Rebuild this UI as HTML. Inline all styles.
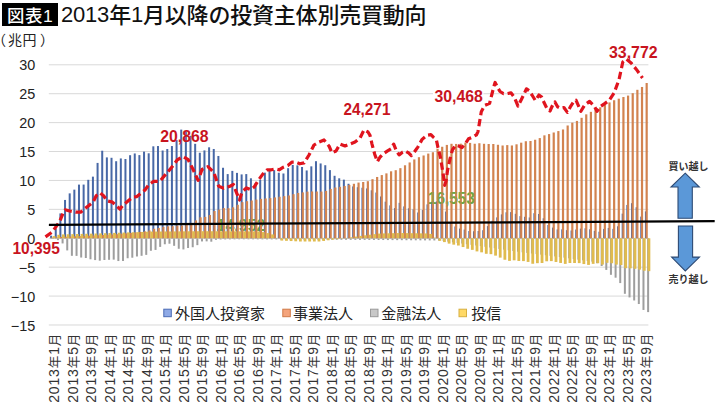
<!DOCTYPE html>
<html><head><meta charset="utf-8"><style>
html,body{margin:0;padding:0;background:#fff;}
body{width:720px;height:406px;position:relative;overflow:hidden;}
.tbox{position:absolute;left:2px;top:3px;width:56px;height:23px;background:#000;}
.t1{position:absolute;left:7px;top:3px;font:500 17.4px/26px "Liberation Sans","Noto Sans CJK JP",sans-serif;color:#fff;white-space:nowrap;letter-spacing:0.6px;}
.dg{position:relative;top:-1.5px;}
.t2{position:absolute;left:61px;top:2px;font:500 22px/28px "Liberation Sans","Noto Sans CJK JP",sans-serif;color:#111;white-space:nowrap;letter-spacing:-0.2px;}
.unit{position:absolute;left:0px;top:31.3px;font:14px/18px "Liberation Sans","Noto Sans CJK JP",sans-serif;color:#222;white-space:nowrap;}
svg{position:absolute;left:0;top:0;}
.yl{font:14.4px "Liberation Sans","Noto Sans CJK JP",sans-serif;fill:#222;}
.xl{font:14px "Liberation Sans","Noto Sans CJK JP",sans-serif;fill:#333;letter-spacing:0.85px;}
.xc{font-size:12.6px;}
.rl{font:bold 16px "Liberation Sans",sans-serif;fill:#c8141e;}
.gl{font:bold 16px "Liberation Sans",sans-serif;fill:#68a844;}
.lg{font:15px "Liberation Sans","Noto Sans CJK JP",sans-serif;fill:#222;}
.ar{font:bold 10px "Liberation Sans","Noto Sans CJK JP",sans-serif;fill:#333;}
</style></head><body>
<div class="tbox"></div>
<div class="t1">図表1</div>
<div class="t2"><span class="dg">2013</span>年<span class="dg">1</span>月以降の投資主体別売買動向</div>
<div class="unit"><span style="position:absolute;left:-8px">（</span><span style="position:absolute;left:8px">兆</span><span style="position:absolute;left:22.6px">円</span><span style="position:absolute;left:40px">）</span></div>
<svg width="720" height="406" viewBox="0 0 720 406">
<line x1="48.8" y1="64.80" x2="648.4" y2="64.80" stroke="#d9d9d9" stroke-width="1"/>
<line x1="48.8" y1="93.71" x2="648.4" y2="93.71" stroke="#d9d9d9" stroke-width="1"/>
<line x1="48.8" y1="122.62" x2="648.4" y2="122.62" stroke="#d9d9d9" stroke-width="1"/>
<line x1="48.8" y1="151.53" x2="648.4" y2="151.53" stroke="#d9d9d9" stroke-width="1"/>
<line x1="48.8" y1="180.44" x2="648.4" y2="180.44" stroke="#d9d9d9" stroke-width="1"/>
<line x1="48.8" y1="209.35" x2="648.4" y2="209.35" stroke="#d9d9d9" stroke-width="1"/>
<line x1="48.8" y1="238.26" x2="648.4" y2="238.26" stroke="#d9d9d9" stroke-width="1"/>
<line x1="48.8" y1="267.17" x2="648.4" y2="267.17" stroke="#d9d9d9" stroke-width="1"/>
<line x1="48.8" y1="296.08" x2="648.4" y2="296.08" stroke="#d9d9d9" stroke-width="1"/>
<line x1="48.8" y1="324.99" x2="648.4" y2="324.99" stroke="#d9d9d9" stroke-width="1"/>
<text x="216.5" y="231" class="gl" style="font-size:16px">14,952</text>
<text x="428.1" y="203.8" class="gl" textLength="46.8" lengthAdjust="spacingAndGlyphs">16,553</text>
<g fill="#4868a6"><rect x="50.10" y="235.70" width="2.0" height="2.60"/><rect x="54.75" y="228.45" width="2.0" height="9.85"/><rect x="59.39" y="213.42" width="2.0" height="24.88"/><rect x="64.04" y="199.94" width="2.0" height="38.36"/><rect x="68.69" y="193.37" width="2.0" height="44.93"/><rect x="73.34" y="189.65" width="2.0" height="48.65"/><rect x="77.98" y="184.60" width="2.0" height="53.70"/><rect x="82.63" y="184.57" width="2.0" height="53.73"/><rect x="87.28" y="179.81" width="2.0" height="58.49"/><rect x="91.92" y="176.65" width="2.0" height="61.65"/><rect x="96.57" y="162.92" width="2.0" height="75.38"/><rect x="101.22" y="150.73" width="2.0" height="87.57"/><rect x="105.86" y="157.40" width="2.0" height="80.90"/><rect x="110.51" y="157.78" width="2.0" height="80.52"/><rect x="115.16" y="161.22" width="2.0" height="77.08"/><rect x="119.81" y="158.45" width="2.0" height="79.85"/><rect x="124.45" y="159.01" width="2.0" height="79.29"/><rect x="129.10" y="155.20" width="2.0" height="83.10"/><rect x="133.75" y="153.47" width="2.0" height="84.83"/><rect x="138.39" y="155.10" width="2.0" height="83.20"/><rect x="143.04" y="151.63" width="2.0" height="86.67"/><rect x="147.69" y="153.30" width="2.0" height="85.00"/><rect x="152.33" y="146.32" width="2.0" height="91.98"/><rect x="156.98" y="146.03" width="2.0" height="92.27"/><rect x="161.63" y="150.50" width="2.0" height="87.80"/><rect x="166.28" y="149.04" width="2.0" height="89.26"/><rect x="170.92" y="146.05" width="2.0" height="92.25"/><rect x="175.57" y="139.96" width="2.0" height="98.34"/><rect x="180.22" y="129.61" width="2.0" height="108.69"/><rect x="184.86" y="131.39" width="2.0" height="106.91"/><rect x="189.51" y="135.77" width="2.0" height="102.53"/><rect x="194.16" y="143.82" width="2.0" height="94.48"/><rect x="198.80" y="152.75" width="2.0" height="85.55"/><rect x="203.45" y="150.41" width="2.0" height="87.89"/><rect x="208.10" y="147.30" width="2.0" height="91.00"/><rect x="212.75" y="148.98" width="2.0" height="89.32"/><rect x="217.39" y="155.97" width="2.0" height="82.33"/><rect x="222.04" y="167.76" width="2.0" height="70.54"/><rect x="226.69" y="174.09" width="2.0" height="64.21"/><rect x="231.33" y="170.89" width="2.0" height="67.41"/><rect x="235.98" y="172.88" width="2.0" height="65.42"/><rect x="240.63" y="174.41" width="2.0" height="63.89"/><rect x="245.27" y="174.09" width="2.0" height="64.21"/><rect x="249.92" y="178.29" width="2.0" height="60.01"/><rect x="254.57" y="183.07" width="2.0" height="55.23"/><rect x="259.22" y="179.68" width="2.0" height="58.62"/><rect x="263.86" y="172.64" width="2.0" height="65.66"/><rect x="268.51" y="170.33" width="2.0" height="67.97"/><rect x="273.16" y="170.17" width="2.0" height="68.13"/><rect x="277.80" y="172.73" width="2.0" height="65.57"/><rect x="282.45" y="173.49" width="2.0" height="64.81"/><rect x="287.10" y="168.19" width="2.0" height="70.11"/><rect x="291.74" y="164.93" width="2.0" height="73.37"/><rect x="296.39" y="165.34" width="2.0" height="72.96"/><rect x="301.04" y="166.98" width="2.0" height="71.32"/><rect x="305.69" y="170.45" width="2.0" height="67.85"/><rect x="310.33" y="166.34" width="2.0" height="71.96"/><rect x="314.98" y="161.20" width="2.0" height="77.10"/><rect x="319.63" y="163.45" width="2.0" height="74.85"/><rect x="324.27" y="165.22" width="2.0" height="73.08"/><rect x="328.92" y="170.11" width="2.0" height="68.19"/><rect x="333.57" y="175.79" width="2.0" height="62.51"/><rect x="338.21" y="178.30" width="2.0" height="60.00"/><rect x="342.86" y="179.67" width="2.0" height="58.63"/><rect x="347.51" y="183.77" width="2.0" height="54.53"/><rect x="352.16" y="186.43" width="2.0" height="51.87"/><rect x="356.80" y="187.22" width="2.0" height="51.08"/><rect x="361.45" y="187.72" width="2.0" height="50.58"/><rect x="366.10" y="188.44" width="2.0" height="49.86"/><rect x="370.74" y="190.30" width="2.0" height="48.00"/><rect x="375.39" y="192.55" width="2.0" height="45.75"/><rect x="380.04" y="196.47" width="2.0" height="41.83"/><rect x="384.68" y="201.66" width="2.0" height="36.64"/><rect x="389.33" y="205.39" width="2.0" height="32.91"/><rect x="393.98" y="208.10" width="2.0" height="30.20"/><rect x="398.63" y="202.82" width="2.0" height="35.48"/><rect x="403.27" y="206.41" width="2.0" height="31.89"/><rect x="407.92" y="208.30" width="2.0" height="30.00"/><rect x="412.57" y="209.35" width="2.0" height="28.95"/><rect x="417.21" y="212.48" width="2.0" height="25.82"/><rect x="421.86" y="210.03" width="2.0" height="28.27"/><rect x="426.51" y="204.39" width="2.0" height="33.91"/><rect x="431.15" y="201.81" width="2.0" height="36.49"/><rect x="435.80" y="201.40" width="2.0" height="36.90"/><rect x="440.45" y="203.17" width="2.0" height="35.13"/><rect x="445.10" y="211.57" width="2.0" height="26.73"/><rect x="449.74" y="222.02" width="2.0" height="16.28"/><rect x="454.39" y="226.48" width="2.0" height="11.82"/><rect x="459.04" y="228.57" width="2.0" height="9.73"/><rect x="463.68" y="229.56" width="2.0" height="8.74"/><rect x="468.33" y="231.06" width="2.0" height="7.24"/><rect x="472.98" y="231.27" width="2.0" height="7.03"/><rect x="477.62" y="231.00" width="2.0" height="7.30"/><rect x="482.27" y="230.21" width="2.0" height="8.09"/><rect x="486.92" y="226.12" width="2.0" height="12.18"/><rect x="491.57" y="220.67" width="2.0" height="17.63"/><rect x="496.21" y="217.39" width="2.0" height="20.91"/><rect x="500.86" y="214.39" width="2.0" height="23.91"/><rect x="505.51" y="212.31" width="2.0" height="25.99"/><rect x="510.15" y="212.10" width="2.0" height="26.20"/><rect x="514.80" y="213.81" width="2.0" height="24.49"/><rect x="519.45" y="216.12" width="2.0" height="22.18"/><rect x="524.09" y="216.77" width="2.0" height="21.53"/><rect x="528.74" y="217.46" width="2.0" height="20.84"/><rect x="533.39" y="213.20" width="2.0" height="25.10"/><rect x="538.03" y="213.97" width="2.0" height="24.33"/><rect x="542.68" y="218.28" width="2.0" height="20.02"/><rect x="547.33" y="224.99" width="2.0" height="13.31"/><rect x="551.98" y="227.59" width="2.0" height="10.71"/><rect x="556.62" y="229.45" width="2.0" height="8.85"/><rect x="561.27" y="229.35" width="2.0" height="8.95"/><rect x="565.92" y="230.17" width="2.0" height="8.13"/><rect x="570.56" y="230.49" width="2.0" height="7.81"/><rect x="575.21" y="229.56" width="2.0" height="8.74"/><rect x="579.86" y="228.63" width="2.0" height="9.67"/><rect x="584.50" y="228.30" width="2.0" height="10.00"/><rect x="589.15" y="229.29" width="2.0" height="9.01"/><rect x="593.80" y="230.90" width="2.0" height="7.40"/><rect x="598.45" y="231.70" width="2.0" height="6.60"/><rect x="603.09" y="228.91" width="2.0" height="9.39"/><rect x="607.74" y="227.93" width="2.0" height="10.37"/><rect x="612.39" y="228.85" width="2.0" height="9.45"/><rect x="617.03" y="226.31" width="2.0" height="11.99"/><rect x="621.68" y="213.63" width="2.0" height="24.67"/><rect x="626.33" y="204.95" width="2.0" height="33.35"/><rect x="630.98" y="203.20" width="2.0" height="35.10"/><rect x="635.62" y="207.26" width="2.0" height="31.04"/><rect x="640.27" y="216.59" width="2.0" height="21.71"/><rect x="644.92" y="211.40" width="2.0" height="26.90"/></g>
<g fill="#d2834f"><rect x="50.75" y="237.54" width="2.2" height="0.76"/><rect x="55.40" y="237.23" width="2.2" height="1.07"/><rect x="60.04" y="236.94" width="2.2" height="1.36"/><rect x="64.69" y="236.71" width="2.2" height="1.59"/><rect x="69.34" y="236.48" width="2.2" height="1.82"/><rect x="73.99" y="236.25" width="2.2" height="2.05"/><rect x="78.63" y="236.01" width="2.2" height="2.29"/><rect x="83.28" y="235.82" width="2.2" height="2.48"/><rect x="87.93" y="235.64" width="2.2" height="2.66"/><rect x="92.57" y="235.45" width="2.2" height="2.85"/><rect x="97.22" y="235.27" width="2.2" height="3.03"/><rect x="101.87" y="235.02" width="2.2" height="3.28"/><rect x="106.51" y="234.74" width="2.2" height="3.56"/><rect x="111.16" y="234.46" width="2.2" height="3.84"/><rect x="115.81" y="234.19" width="2.2" height="4.11"/><rect x="120.46" y="233.84" width="2.2" height="4.46"/><rect x="125.10" y="233.38" width="2.2" height="4.92"/><rect x="129.75" y="232.92" width="2.2" height="5.38"/><rect x="134.40" y="232.44" width="2.2" height="5.86"/><rect x="139.04" y="231.88" width="2.2" height="6.42"/><rect x="143.69" y="231.33" width="2.2" height="6.97"/><rect x="148.34" y="230.44" width="2.2" height="7.86"/><rect x="152.98" y="228.75" width="2.2" height="9.55"/><rect x="157.63" y="227.93" width="2.2" height="10.37"/><rect x="162.28" y="226.79" width="2.2" height="11.51"/><rect x="166.93" y="226.30" width="2.2" height="12.00"/><rect x="171.57" y="226.18" width="2.2" height="12.12"/><rect x="176.22" y="225.60" width="2.2" height="12.70"/><rect x="180.87" y="225.51" width="2.2" height="12.79"/><rect x="185.51" y="224.86" width="2.2" height="13.44"/><rect x="190.16" y="223.59" width="2.2" height="14.71"/><rect x="194.81" y="220.39" width="2.2" height="17.91"/><rect x="199.45" y="217.34" width="2.2" height="20.96"/><rect x="204.10" y="216.90" width="2.2" height="21.40"/><rect x="208.75" y="215.01" width="2.2" height="23.29"/><rect x="213.40" y="211.02" width="2.2" height="27.28"/><rect x="218.04" y="209.67" width="2.2" height="28.63"/><rect x="222.69" y="208.10" width="2.2" height="30.20"/><rect x="227.34" y="208.18" width="2.2" height="30.12"/><rect x="231.98" y="207.32" width="2.2" height="30.98"/><rect x="236.63" y="204.75" width="2.2" height="33.55"/><rect x="241.28" y="202.18" width="2.2" height="36.12"/><rect x="245.92" y="201.22" width="2.2" height="37.08"/><rect x="250.57" y="200.51" width="2.2" height="37.79"/><rect x="255.22" y="199.59" width="2.2" height="38.71"/><rect x="259.87" y="198.89" width="2.2" height="39.41"/><rect x="264.51" y="198.47" width="2.2" height="39.83"/><rect x="269.16" y="198.13" width="2.2" height="40.17"/><rect x="273.81" y="197.44" width="2.2" height="40.86"/><rect x="278.45" y="196.75" width="2.2" height="41.55"/><rect x="283.10" y="196.14" width="2.2" height="42.16"/><rect x="287.75" y="195.46" width="2.2" height="42.84"/><rect x="292.39" y="194.18" width="2.2" height="44.12"/><rect x="297.04" y="192.96" width="2.2" height="45.34"/><rect x="301.69" y="192.39" width="2.2" height="45.91"/><rect x="306.33" y="191.63" width="2.2" height="46.67"/><rect x="310.98" y="191.44" width="2.2" height="46.86"/><rect x="315.63" y="191.51" width="2.2" height="46.79"/><rect x="320.28" y="191.58" width="2.2" height="46.72"/><rect x="324.92" y="190.93" width="2.2" height="47.37"/><rect x="329.57" y="188.92" width="2.2" height="49.38"/><rect x="334.22" y="187.51" width="2.2" height="50.79"/><rect x="338.86" y="186.83" width="2.2" height="51.47"/><rect x="343.51" y="185.95" width="2.2" height="52.35"/><rect x="348.16" y="184.93" width="2.2" height="53.37"/><rect x="352.81" y="183.78" width="2.2" height="54.52"/><rect x="357.45" y="182.57" width="2.2" height="55.73"/><rect x="362.10" y="182.00" width="2.2" height="56.30"/><rect x="366.75" y="181.18" width="2.2" height="57.12"/><rect x="371.39" y="179.17" width="2.2" height="59.13"/><rect x="376.04" y="176.97" width="2.2" height="61.33"/><rect x="380.69" y="175.07" width="2.2" height="63.23"/><rect x="385.33" y="173.38" width="2.2" height="64.92"/><rect x="389.98" y="171.31" width="2.2" height="66.99"/><rect x="394.63" y="170.20" width="2.2" height="68.10"/><rect x="399.28" y="168.16" width="2.2" height="70.14"/><rect x="403.92" y="165.29" width="2.2" height="73.01"/><rect x="408.57" y="162.45" width="2.2" height="75.85"/><rect x="413.22" y="159.44" width="2.2" height="78.86"/><rect x="417.86" y="157.20" width="2.2" height="81.10"/><rect x="422.51" y="155.48" width="2.2" height="82.82"/><rect x="427.16" y="153.58" width="2.2" height="84.72"/><rect x="431.80" y="152.25" width="2.2" height="86.05"/><rect x="436.45" y="148.77" width="2.2" height="89.53"/><rect x="441.10" y="146.76" width="2.2" height="91.54"/><rect x="445.75" y="144.91" width="2.2" height="93.39"/><rect x="450.39" y="143.79" width="2.2" height="94.51"/><rect x="455.04" y="143.93" width="2.2" height="94.37"/><rect x="459.69" y="143.67" width="2.2" height="94.63"/><rect x="464.33" y="142.55" width="2.2" height="95.75"/><rect x="468.98" y="142.89" width="2.2" height="95.41"/><rect x="473.63" y="143.75" width="2.2" height="94.55"/><rect x="478.27" y="143.23" width="2.2" height="95.07"/><rect x="482.92" y="143.79" width="2.2" height="94.51"/><rect x="487.57" y="144.00" width="2.2" height="94.30"/><rect x="492.22" y="144.00" width="2.2" height="94.30"/><rect x="496.86" y="144.79" width="2.2" height="93.51"/><rect x="501.51" y="145.49" width="2.2" height="92.81"/><rect x="506.16" y="145.10" width="2.2" height="93.20"/><rect x="510.80" y="145.47" width="2.2" height="92.83"/><rect x="515.45" y="144.31" width="2.2" height="93.99"/><rect x="520.10" y="142.68" width="2.2" height="95.62"/><rect x="524.74" y="141.23" width="2.2" height="97.07"/><rect x="529.39" y="141.00" width="2.2" height="97.30"/><rect x="534.04" y="139.74" width="2.2" height="98.56"/><rect x="538.68" y="138.08" width="2.2" height="100.22"/><rect x="543.33" y="135.34" width="2.2" height="102.96"/><rect x="547.98" y="134.07" width="2.2" height="104.23"/><rect x="552.63" y="132.50" width="2.2" height="105.80"/><rect x="557.27" y="131.07" width="2.2" height="107.23"/><rect x="561.92" y="129.48" width="2.2" height="108.82"/><rect x="566.57" y="125.48" width="2.2" height="112.82"/><rect x="571.21" y="122.67" width="2.2" height="115.63"/><rect x="575.86" y="120.92" width="2.2" height="117.38"/><rect x="580.51" y="117.80" width="2.2" height="120.50"/><rect x="585.15" y="114.34" width="2.2" height="123.96"/><rect x="589.80" y="111.84" width="2.2" height="126.46"/><rect x="594.45" y="109.17" width="2.2" height="129.13"/><rect x="599.10" y="107.32" width="2.2" height="130.98"/><rect x="603.74" y="105.06" width="2.2" height="133.24"/><rect x="608.39" y="102.41" width="2.2" height="135.89"/><rect x="613.04" y="100.25" width="2.2" height="138.05"/><rect x="617.68" y="98.68" width="2.2" height="139.62"/><rect x="622.33" y="97.02" width="2.2" height="141.28"/><rect x="626.98" y="95.58" width="2.2" height="142.72"/><rect x="631.62" y="93.18" width="2.2" height="145.12"/><rect x="636.27" y="89.80" width="2.2" height="148.50"/><rect x="640.92" y="86.97" width="2.2" height="151.33"/><rect x="645.57" y="83.00" width="2.2" height="155.30"/></g>
<g fill="#9e9e9e"><rect x="52.30" y="238.30" width="2.0" height="0.53"/><rect x="56.95" y="238.30" width="2.0" height="1.85"/><rect x="61.59" y="238.30" width="2.0" height="5.14"/><rect x="66.24" y="238.30" width="2.0" height="12.11"/><rect x="70.89" y="238.30" width="2.0" height="17.50"/><rect x="75.54" y="238.30" width="2.0" height="17.59"/><rect x="80.18" y="238.30" width="2.0" height="19.24"/><rect x="84.83" y="238.30" width="2.0" height="19.71"/><rect x="89.48" y="238.30" width="2.0" height="20.98"/><rect x="94.12" y="238.30" width="2.0" height="21.78"/><rect x="98.77" y="238.30" width="2.0" height="22.40"/><rect x="103.42" y="238.30" width="2.0" height="21.70"/><rect x="108.06" y="238.30" width="2.0" height="21.51"/><rect x="112.71" y="238.30" width="2.0" height="21.33"/><rect x="117.36" y="238.30" width="2.0" height="22.74"/><rect x="122.01" y="238.30" width="2.0" height="22.67"/><rect x="126.65" y="238.30" width="2.0" height="19.94"/><rect x="131.30" y="238.30" width="2.0" height="19.41"/><rect x="135.95" y="238.30" width="2.0" height="18.19"/><rect x="140.59" y="238.30" width="2.0" height="17.50"/><rect x="145.24" y="238.30" width="2.0" height="16.58"/><rect x="149.89" y="238.30" width="2.0" height="12.46"/><rect x="154.53" y="238.30" width="2.0" height="11.62"/><rect x="159.18" y="238.30" width="2.0" height="8.59"/><rect x="163.83" y="238.30" width="2.0" height="5.97"/><rect x="168.47" y="238.30" width="2.0" height="5.42"/><rect x="173.12" y="238.30" width="2.0" height="7.52"/><rect x="177.77" y="238.30" width="2.0" height="10.48"/><rect x="182.42" y="238.30" width="2.0" height="11.14"/><rect x="187.06" y="238.30" width="2.0" height="9.72"/><rect x="191.71" y="238.30" width="2.0" height="8.95"/><rect x="196.36" y="238.30" width="2.0" height="6.84"/><rect x="201.00" y="238.30" width="2.0" height="3.14"/><rect x="205.65" y="238.30" width="2.0" height="3.06"/><rect x="210.30" y="238.30" width="2.0" height="3.39"/><rect x="214.94" y="238.30" width="2.0" height="1.54"/><rect x="219.59" y="238.30" width="2.0" height="1.19"/><rect x="224.24" y="238.30" width="2.0" height="1.15"/><rect x="228.89" y="238.30" width="2.0" height="1.10"/><rect x="233.53" y="238.30" width="2.0" height="1.05"/><rect x="238.18" y="238.30" width="2.0" height="1.01"/><rect x="242.83" y="238.30" width="2.0" height="1.01"/><rect x="247.47" y="238.30" width="2.0" height="1.03"/><rect x="252.12" y="238.30" width="2.0" height="1.04"/><rect x="256.77" y="238.30" width="2.0" height="1.06"/><rect x="261.42" y="238.30" width="2.0" height="1.07"/><rect x="266.06" y="238.30" width="2.0" height="1.09"/><rect x="270.71" y="238.30" width="2.0" height="1.11"/><rect x="275.36" y="238.30" width="2.0" height="1.12"/><rect x="280.00" y="238.30" width="2.0" height="1.14"/><rect x="284.65" y="238.30" width="2.0" height="1.15"/><rect x="289.30" y="238.30" width="2.0" height="1.17"/><rect x="293.94" y="238.30" width="2.0" height="1.18"/><rect x="298.59" y="238.30" width="2.0" height="1.20"/><rect x="303.24" y="238.30" width="2.0" height="1.23"/><rect x="307.88" y="238.30" width="2.0" height="1.26"/><rect x="312.53" y="238.30" width="2.0" height="1.28"/><rect x="317.18" y="238.30" width="2.0" height="1.31"/><rect x="321.83" y="238.30" width="2.0" height="1.34"/><rect x="326.47" y="238.30" width="2.0" height="1.37"/><rect x="331.12" y="238.30" width="2.0" height="1.40"/><rect x="335.77" y="238.30" width="2.0" height="1.43"/><rect x="340.41" y="238.30" width="2.0" height="1.46"/><rect x="345.06" y="238.30" width="2.0" height="1.49"/><rect x="349.71" y="238.30" width="2.0" height="1.52"/><rect x="354.36" y="238.30" width="2.0" height="1.55"/><rect x="359.00" y="238.30" width="2.0" height="1.58"/><rect x="363.65" y="238.30" width="2.0" height="1.60"/><rect x="368.30" y="238.30" width="2.0" height="1.63"/><rect x="372.94" y="238.30" width="2.0" height="1.66"/><rect x="377.59" y="238.30" width="2.0" height="1.69"/><rect x="382.24" y="238.30" width="2.0" height="1.73"/><rect x="386.88" y="238.30" width="2.0" height="1.77"/><rect x="391.53" y="238.30" width="2.0" height="1.80"/><rect x="396.18" y="238.30" width="2.0" height="1.84"/><rect x="400.83" y="238.30" width="2.0" height="1.88"/><rect x="405.47" y="238.30" width="2.0" height="1.92"/><rect x="410.12" y="238.30" width="2.0" height="1.96"/><rect x="414.77" y="238.30" width="2.0" height="2.00"/><rect x="419.41" y="238.30" width="2.0" height="2.04"/><rect x="424.06" y="238.30" width="2.0" height="2.08"/><rect x="428.71" y="238.30" width="2.0" height="2.11"/><rect x="433.35" y="238.30" width="2.0" height="2.15"/><rect x="438.00" y="238.30" width="2.0" height="2.19"/><rect x="442.65" y="238.30" width="2.0" height="2.70"/><rect x="447.30" y="238.30" width="2.0" height="3.34"/><rect x="451.94" y="238.30" width="2.0" height="3.98"/><rect x="456.59" y="238.30" width="2.0" height="4.62"/><rect x="461.24" y="238.30" width="2.0" height="5.26"/><rect x="465.88" y="238.30" width="2.0" height="5.90"/><rect x="470.53" y="238.30" width="2.0" height="6.54"/><rect x="475.18" y="238.30" width="2.0" height="7.17"/><rect x="479.82" y="238.30" width="2.0" height="7.82"/><rect x="484.47" y="238.30" width="2.0" height="8.52"/><rect x="489.12" y="238.30" width="2.0" height="9.22"/><rect x="493.77" y="238.30" width="2.0" height="9.91"/><rect x="498.41" y="238.30" width="2.0" height="10.61"/><rect x="503.06" y="238.30" width="2.0" height="11.31"/><rect x="507.71" y="238.30" width="2.0" height="12.01"/><rect x="512.35" y="238.30" width="2.0" height="12.70"/><rect x="517.00" y="238.30" width="2.0" height="13.40"/><rect x="521.65" y="238.30" width="2.0" height="14.03"/><rect x="526.29" y="238.30" width="2.0" height="14.61"/><rect x="530.94" y="238.30" width="2.0" height="15.19"/><rect x="535.59" y="238.30" width="2.0" height="15.77"/><rect x="540.24" y="238.30" width="2.0" height="16.35"/><rect x="544.88" y="238.30" width="2.0" height="16.94"/><rect x="549.53" y="238.30" width="2.0" height="17.52"/><rect x="554.18" y="238.30" width="2.0" height="18.10"/><rect x="558.82" y="238.30" width="2.0" height="18.68"/><rect x="563.47" y="238.30" width="2.0" height="19.34"/><rect x="568.12" y="238.30" width="2.0" height="20.00"/><rect x="572.76" y="238.30" width="2.0" height="20.67"/><rect x="577.41" y="238.30" width="2.0" height="21.33"/><rect x="582.06" y="238.30" width="2.0" height="21.99"/><rect x="586.71" y="238.30" width="2.0" height="22.66"/><rect x="591.35" y="238.30" width="2.0" height="23.32"/><rect x="596.00" y="238.30" width="2.0" height="24.84"/><rect x="600.65" y="238.30" width="2.0" height="27.70"/><rect x="605.29" y="238.30" width="2.0" height="31.61"/><rect x="609.94" y="238.30" width="2.0" height="36.51"/><rect x="614.59" y="238.30" width="2.0" height="39.39"/><rect x="619.23" y="238.30" width="2.0" height="44.77"/><rect x="623.88" y="238.30" width="2.0" height="55.50"/><rect x="628.53" y="238.30" width="2.0" height="59.11"/><rect x="633.18" y="238.30" width="2.0" height="62.17"/><rect x="637.82" y="238.30" width="2.0" height="65.72"/><rect x="642.47" y="238.30" width="2.0" height="71.65"/><rect x="647.12" y="238.30" width="2.0" height="73.80"/></g>
<g fill="#e0bb4e"><rect x="52.70" y="236.13" width="2.8" height="2.17"/><rect x="57.35" y="234.81" width="2.8" height="3.49"/><rect x="61.99" y="234.41" width="2.8" height="3.89"/><rect x="66.64" y="234.28" width="2.8" height="4.02"/><rect x="71.29" y="234.15" width="2.8" height="4.15"/><rect x="75.94" y="234.02" width="2.8" height="4.28"/><rect x="80.58" y="233.90" width="2.8" height="4.40"/><rect x="85.23" y="233.77" width="2.8" height="4.53"/><rect x="89.88" y="233.64" width="2.8" height="4.66"/><rect x="94.52" y="233.51" width="2.8" height="4.79"/><rect x="99.17" y="233.38" width="2.8" height="4.92"/><rect x="103.82" y="233.21" width="2.8" height="5.09"/><rect x="108.46" y="233.05" width="2.8" height="5.25"/><rect x="113.11" y="232.88" width="2.8" height="5.42"/><rect x="117.76" y="232.72" width="2.8" height="5.58"/><rect x="122.41" y="232.55" width="2.8" height="5.75"/><rect x="127.05" y="232.39" width="2.8" height="5.91"/><rect x="131.70" y="232.27" width="2.8" height="6.03"/><rect x="136.35" y="232.16" width="2.8" height="6.14"/><rect x="140.99" y="231.98" width="2.8" height="6.32"/><rect x="145.64" y="231.75" width="2.8" height="6.55"/><rect x="150.29" y="231.59" width="2.8" height="6.71"/><rect x="154.93" y="231.55" width="2.8" height="6.75"/><rect x="159.58" y="231.51" width="2.8" height="6.79"/><rect x="164.23" y="231.47" width="2.8" height="6.83"/><rect x="168.88" y="231.44" width="2.8" height="6.86"/><rect x="173.52" y="231.40" width="2.8" height="6.90"/><rect x="178.17" y="231.36" width="2.8" height="6.94"/><rect x="182.82" y="231.33" width="2.8" height="6.97"/><rect x="187.46" y="231.29" width="2.8" height="7.01"/><rect x="192.11" y="231.25" width="2.8" height="7.05"/><rect x="196.76" y="231.21" width="2.8" height="7.09"/><rect x="201.40" y="231.21" width="2.8" height="7.09"/><rect x="206.05" y="231.22" width="2.8" height="7.08"/><rect x="210.70" y="231.24" width="2.8" height="7.06"/><rect x="215.34" y="231.26" width="2.8" height="7.04"/><rect x="219.99" y="231.27" width="2.8" height="7.03"/><rect x="224.64" y="231.29" width="2.8" height="7.01"/><rect x="229.29" y="231.30" width="2.8" height="7.00"/><rect x="233.93" y="231.32" width="2.8" height="6.98"/><rect x="238.58" y="231.33" width="2.8" height="6.97"/><rect x="243.23" y="231.35" width="2.8" height="6.95"/><rect x="247.87" y="231.36" width="2.8" height="6.94"/><rect x="252.52" y="231.38" width="2.8" height="6.92"/><rect x="257.17" y="231.40" width="2.8" height="6.90"/><rect x="261.82" y="232.10" width="2.8" height="6.20"/><rect x="266.46" y="233.10" width="2.8" height="5.20"/><rect x="271.11" y="234.41" width="2.8" height="3.89"/><rect x="275.76" y="238.19" width="2.8" height="0.11"/><rect x="280.40" y="238.30" width="2.8" height="2.29"/><rect x="285.05" y="238.30" width="2.8" height="2.52"/><rect x="289.70" y="238.30" width="2.8" height="2.75"/><rect x="294.34" y="238.30" width="2.8" height="2.99"/><rect x="298.99" y="238.30" width="2.8" height="3.20"/><rect x="303.64" y="238.30" width="2.8" height="3.20"/><rect x="308.29" y="238.30" width="2.8" height="3.20"/><rect x="312.93" y="238.30" width="2.8" height="3.20"/><rect x="317.58" y="238.30" width="2.8" height="3.20"/><rect x="322.23" y="238.30" width="2.8" height="2.66"/><rect x="326.87" y="238.30" width="2.8" height="1.96"/><rect x="331.52" y="238.30" width="2.8" height="1.37"/><rect x="336.17" y="238.30" width="2.8" height="0.84"/><rect x="340.81" y="238.30" width="2.8" height="0.32"/><rect x="345.46" y="238.01" width="2.8" height="0.29"/><rect x="350.11" y="237.30" width="2.8" height="1.00"/><rect x="354.76" y="236.59" width="2.8" height="1.71"/><rect x="359.40" y="235.90" width="2.8" height="2.40"/><rect x="364.05" y="235.32" width="2.8" height="2.98"/><rect x="368.70" y="234.74" width="2.8" height="3.56"/><rect x="373.34" y="234.16" width="2.8" height="4.14"/><rect x="377.99" y="233.58" width="2.8" height="4.72"/><rect x="382.64" y="233.40" width="2.8" height="4.90"/><rect x="387.28" y="233.28" width="2.8" height="5.02"/><rect x="391.93" y="233.17" width="2.8" height="5.13"/><rect x="396.58" y="233.05" width="2.8" height="5.25"/><rect x="401.23" y="233.04" width="2.8" height="5.26"/><rect x="405.87" y="233.12" width="2.8" height="5.18"/><rect x="410.52" y="233.20" width="2.8" height="5.10"/><rect x="415.17" y="233.28" width="2.8" height="5.02"/><rect x="419.81" y="233.35" width="2.8" height="4.95"/><rect x="424.46" y="233.43" width="2.8" height="4.87"/><rect x="429.11" y="233.91" width="2.8" height="4.39"/><rect x="433.75" y="237.62" width="2.8" height="0.68"/><rect x="438.40" y="238.30" width="2.8" height="2.51"/><rect x="443.05" y="238.30" width="2.8" height="3.80"/><rect x="447.70" y="238.30" width="2.8" height="5.32"/><rect x="452.34" y="238.30" width="2.8" height="6.36"/><rect x="456.99" y="238.30" width="2.8" height="7.23"/><rect x="461.64" y="238.30" width="2.8" height="8.75"/><rect x="466.28" y="238.30" width="2.8" height="10.46"/><rect x="470.93" y="238.30" width="2.8" height="11.55"/><rect x="475.58" y="238.30" width="2.8" height="13.10"/><rect x="480.22" y="238.30" width="2.8" height="14.04"/><rect x="484.87" y="238.30" width="2.8" height="15.49"/><rect x="489.52" y="238.30" width="2.8" height="15.86"/><rect x="494.17" y="238.30" width="2.8" height="17.33"/><rect x="498.81" y="238.30" width="2.8" height="19.32"/><rect x="503.46" y="238.30" width="2.8" height="21.46"/><rect x="508.11" y="238.30" width="2.8" height="22.58"/><rect x="512.75" y="238.30" width="2.8" height="22.01"/><rect x="517.40" y="238.30" width="2.8" height="22.66"/><rect x="522.05" y="238.30" width="2.8" height="22.80"/><rect x="526.69" y="238.30" width="2.8" height="23.62"/><rect x="531.34" y="238.30" width="2.8" height="25.46"/><rect x="535.99" y="238.30" width="2.8" height="24.87"/><rect x="540.63" y="238.30" width="2.8" height="24.70"/><rect x="545.28" y="238.30" width="2.8" height="22.98"/><rect x="549.93" y="238.30" width="2.8" height="22.80"/><rect x="554.58" y="238.30" width="2.8" height="23.68"/><rect x="559.22" y="238.30" width="2.8" height="24.64"/><rect x="563.87" y="238.30" width="2.8" height="25.59"/><rect x="568.52" y="238.30" width="2.8" height="24.70"/><rect x="573.16" y="238.30" width="2.8" height="24.70"/><rect x="577.81" y="238.30" width="2.8" height="24.82"/><rect x="582.46" y="238.30" width="2.8" height="25.76"/><rect x="587.11" y="238.30" width="2.8" height="26.61"/><rect x="591.75" y="238.30" width="2.8" height="25.55"/><rect x="596.40" y="238.30" width="2.8" height="24.93"/><rect x="601.05" y="238.30" width="2.8" height="26.29"/><rect x="605.69" y="238.30" width="2.8" height="24.50"/><rect x="610.34" y="238.30" width="2.8" height="24.94"/><rect x="614.99" y="238.30" width="2.8" height="26.30"/><rect x="619.63" y="238.30" width="2.8" height="26.74"/><rect x="624.28" y="238.30" width="2.8" height="29.90"/><rect x="628.93" y="238.30" width="2.8" height="30.00"/><rect x="633.58" y="238.30" width="2.8" height="30.50"/><rect x="638.22" y="238.30" width="2.8" height="31.31"/><rect x="642.87" y="238.30" width="2.8" height="32.43"/><rect x="647.52" y="238.30" width="2.8" height="32.86"/></g>
<path d="M45.5,236.9 L52.3,232.0 L59.7,221.5 L63.4,212.2 L65.2,209.8 L69.6,211.0 L75.7,212.2 L80.6,212.2 L84.4,209.1 L88.9,205.4 L93.3,201.8 L96.2,195.8 L99.9,192.9 L103.6,195.8 L107.3,201.0 L111.8,201.8 L116.2,205.4 L119.9,209.1 L123.6,204.7 L128.0,201.0 L132.4,197.3 L136.9,196.6 L140.6,193.6 L145.0,190.0 L148.7,184.8 L153.8,181.3 L159.7,181.3 L165.6,174.4 L171.5,167.6 L177.4,159.7 L183.3,156.7 L188.2,159.7 L193.1,169.5 L198.1,180.4 L202.0,169.5 L207.9,166.6 L213.8,172.5 L218.7,186.3 L223.7,188.2 L230.0,186.2 L233.4,184.5 L236.0,191.4 L239.5,200.0 L242.0,192.2 L246.4,187.9 L250.7,189.7 L254.1,187.1 L258.4,180.2 L262.8,174.1 L267.1,169.8 L271.4,169.8 L275.7,169.0 L279.1,169.8 L283.4,167.2 L287.8,165.5 L292.1,162.1 L295.5,162.1 L299.8,163.8 L304.1,162.9 L309.0,155.0 L314.0,145.0 L319.0,142.0 L324.0,140.0 L329.0,146.0 L332.0,153.0 L336.0,151.0 L340.0,144.0 L345.0,146.0 L350.0,144.0 L355.0,142.0 L360.0,138.0 L364.0,130.0 L368.0,132.0 L370.0,135.3 L372.0,144.1 L374.7,154.2 L377.4,161.7 L380.1,157.0 L383.5,153.6 L387.6,150.9 L391.0,148.8 L393.7,144.1 L396.4,150.9 L399.1,154.9 L402.5,152.2 L405.2,150.9 L408.6,152.9 L411.3,155.6 L414.7,151.5 L418.0,146.8 L422.1,139.4 L426.8,135.3 L430.9,134.6 L433.6,137.3 L436.4,139.9 L438.0,147.6 L440.4,157.2 L442.0,166.9 L443.6,176.5 L444.7,185.3 L446.0,181.3 L447.6,170.1 L450.0,158.8 L452.4,150.0 L455.6,145.2 L458.8,146.0 L462.0,147.6 L465.3,143.6 L468.5,138.8 L472.5,137.2 L476.5,134.8 L478.0,131.6 L479.2,124.2 L481.3,111.7 L484.7,105.4 L489.6,103.3 L491.7,95.0 L493.8,86.7 L495.1,82.5 L497.2,86.7 L500.0,91.5 L503.5,93.6 L507.0,93.6 L511.1,92.9 L514.6,97.8 L518.0,106.1 L521.5,99.2 L524.3,93.6 L526.4,88.8 L529.2,90.8 L532.0,95.0 L535.4,100.6 L538.9,95.0 L541.7,97.1 L544.4,103.3 L547.2,108.9 L550.0,111.0 L552.8,104.7 L554.9,101.9 L557.6,106.8 L560.4,108.2 L563.9,107.5 L567.4,112.4 L570.8,106.1 L573.6,101.9 L576.0,100.2 L580.9,111.3 L584.6,105.1 L589.6,101.4 L594.5,106.4 L597.0,111.3 L600.6,106.4 L604.3,103.9 L609.3,100.2 L614.2,92.8 L619.1,79.3 L622.8,62.0 L626.5,59.1 L631.4,63.3 L636.4,69.4 L642.5,78.0" fill="none" stroke="#e0141e" stroke-width="3.2" stroke-dasharray="7.4 3.8" stroke-linejoin="round"/>
<line x1="48.9" y1="224.8" x2="714.7" y2="221.2" stroke="#000" stroke-width="2.2"/>
<text x="428.1" y="203.8" class="gl" textLength="46.8" lengthAdjust="spacingAndGlyphs" fill-opacity="0.45">16,553</text>
<path d="M685.2,173.2 L699.3,187 L692.3,187 L692.3,218.3 L678,218.3 L678,187 L671,187 Z" fill="#5b98d8" stroke="#2d4a74" stroke-width="1.1"/>
<path d="M678.4,226 L692.6,226 L692.6,257.1 L699.5,257.1 L685.3,270.9 L671.6,257.1 L678.4,257.1 Z" fill="#5b98d8" stroke="#2d4a74" stroke-width="1.1"/>
<text x="12.4" y="254.3" class="rl" textLength="47.4" lengthAdjust="spacingAndGlyphs">10,395</text>
<text x="35.2" y="70.4" text-anchor="end" class="yl">30</text>
<text x="35.2" y="99.3" text-anchor="end" class="yl">25</text>
<text x="35.2" y="128.2" text-anchor="end" class="yl">20</text>
<text x="35.2" y="157.1" text-anchor="end" class="yl">15</text>
<text x="35.2" y="186.0" text-anchor="end" class="yl">10</text>
<text x="35.2" y="215.0" text-anchor="end" class="yl">5</text>
<text x="35.2" y="243.9" text-anchor="end" class="yl">0</text>
<text x="35.2" y="272.8" text-anchor="end" class="yl">−5</text>
<text x="35.2" y="301.7" text-anchor="end" class="yl">−10</text>
<text x="35.2" y="330.6" text-anchor="end" class="yl">−15</text>
<text transform="translate(59.1,402.8) rotate(-90)" class="xl">2013<tspan class="xc">年</tspan>1<tspan class="xc">月</tspan></text>
<text transform="translate(77.6,402.8) rotate(-90)" class="xl">2013<tspan class="xc">年</tspan>5<tspan class="xc">月</tspan></text>
<text transform="translate(96.1,402.8) rotate(-90)" class="xl">2013<tspan class="xc">年</tspan>9<tspan class="xc">月</tspan></text>
<text transform="translate(114.6,402.8) rotate(-90)" class="xl">2014<tspan class="xc">年</tspan>1<tspan class="xc">月</tspan></text>
<text transform="translate(133.1,402.8) rotate(-90)" class="xl">2014<tspan class="xc">年</tspan>5<tspan class="xc">月</tspan></text>
<text transform="translate(151.6,402.8) rotate(-90)" class="xl">2014<tspan class="xc">年</tspan>9<tspan class="xc">月</tspan></text>
<text transform="translate(170.1,402.8) rotate(-90)" class="xl">2015<tspan class="xc">年</tspan>1<tspan class="xc">月</tspan></text>
<text transform="translate(188.6,402.8) rotate(-90)" class="xl">2015<tspan class="xc">年</tspan>5<tspan class="xc">月</tspan></text>
<text transform="translate(207.1,402.8) rotate(-90)" class="xl">2015<tspan class="xc">年</tspan>9<tspan class="xc">月</tspan></text>
<text transform="translate(225.6,402.8) rotate(-90)" class="xl">2016<tspan class="xc">年</tspan>1<tspan class="xc">月</tspan></text>
<text transform="translate(244.1,402.8) rotate(-90)" class="xl">2016<tspan class="xc">年</tspan>5<tspan class="xc">月</tspan></text>
<text transform="translate(262.6,402.8) rotate(-90)" class="xl">2016<tspan class="xc">年</tspan>9<tspan class="xc">月</tspan></text>
<text transform="translate(281.1,402.8) rotate(-90)" class="xl">2017<tspan class="xc">年</tspan>1<tspan class="xc">月</tspan></text>
<text transform="translate(299.5,402.8) rotate(-90)" class="xl">2017<tspan class="xc">年</tspan>5<tspan class="xc">月</tspan></text>
<text transform="translate(318.0,402.8) rotate(-90)" class="xl">2017<tspan class="xc">年</tspan>9<tspan class="xc">月</tspan></text>
<text transform="translate(336.5,402.8) rotate(-90)" class="xl">2018<tspan class="xc">年</tspan>1<tspan class="xc">月</tspan></text>
<text transform="translate(355.0,402.8) rotate(-90)" class="xl">2018<tspan class="xc">年</tspan>5<tspan class="xc">月</tspan></text>
<text transform="translate(373.5,402.8) rotate(-90)" class="xl">2018<tspan class="xc">年</tspan>9<tspan class="xc">月</tspan></text>
<text transform="translate(392.0,402.8) rotate(-90)" class="xl">2019<tspan class="xc">年</tspan>1<tspan class="xc">月</tspan></text>
<text transform="translate(410.5,402.8) rotate(-90)" class="xl">2019<tspan class="xc">年</tspan>5<tspan class="xc">月</tspan></text>
<text transform="translate(429.0,402.8) rotate(-90)" class="xl">2019<tspan class="xc">年</tspan>9<tspan class="xc">月</tspan></text>
<text transform="translate(447.5,402.8) rotate(-90)" class="xl">2020<tspan class="xc">年</tspan>1<tspan class="xc">月</tspan></text>
<text transform="translate(466.0,402.8) rotate(-90)" class="xl">2020<tspan class="xc">年</tspan>5<tspan class="xc">月</tspan></text>
<text transform="translate(484.5,402.8) rotate(-90)" class="xl">2020<tspan class="xc">年</tspan>9<tspan class="xc">月</tspan></text>
<text transform="translate(503.0,402.8) rotate(-90)" class="xl">2021<tspan class="xc">年</tspan>1<tspan class="xc">月</tspan></text>
<text transform="translate(521.5,402.8) rotate(-90)" class="xl">2021<tspan class="xc">年</tspan>5<tspan class="xc">月</tspan></text>
<text transform="translate(540.0,402.8) rotate(-90)" class="xl">2021<tspan class="xc">年</tspan>9<tspan class="xc">月</tspan></text>
<text transform="translate(558.5,402.8) rotate(-90)" class="xl">2022<tspan class="xc">年</tspan>1<tspan class="xc">月</tspan></text>
<text transform="translate(577.0,402.8) rotate(-90)" class="xl">2022<tspan class="xc">年</tspan>5<tspan class="xc">月</tspan></text>
<text transform="translate(595.5,402.8) rotate(-90)" class="xl">2022<tspan class="xc">年</tspan>9<tspan class="xc">月</tspan></text>
<text transform="translate(614.0,402.8) rotate(-90)" class="xl">2023<tspan class="xc">年</tspan>1<tspan class="xc">月</tspan></text>
<text transform="translate(632.5,402.8) rotate(-90)" class="xl">2023<tspan class="xc">年</tspan>5<tspan class="xc">月</tspan></text>
<text transform="translate(651.0,402.8) rotate(-90)" class="xl">2023<tspan class="xc">年</tspan>9<tspan class="xc">月</tspan></text>
<text x="160.3" y="142" class="rl" textLength="48.2" lengthAdjust="spacingAndGlyphs">20,868</text>
<text x="343.6" y="115.2" class="rl" textLength="46.8" lengthAdjust="spacingAndGlyphs">24,271</text>
<rect x="433" y="87" width="50.5" height="17.5" fill="#fff"/>
<text x="434.5" y="102" class="rl" textLength="48.4" lengthAdjust="spacingAndGlyphs">30,468</text>
<text x="609" y="57.9" class="rl" textLength="48.6" lengthAdjust="spacingAndGlyphs">33,772</text>
<rect x="163.8" y="309.2" width="7.5" height="7.5" fill="#8faae6" stroke="#4a6bb5" stroke-width="1"/>
<text x="175" y="318.6" class="lg">外国人投資家</text>
<rect x="282.8" y="309.2" width="7.5" height="7.5" fill="#f4a47c" stroke="#d07a48" stroke-width="1"/>
<text x="293" y="318.6" class="lg">事業法人</text>
<rect x="370.5" y="309.2" width="7.5" height="7.5" fill="#c8c8c8" stroke="#9a9a9a" stroke-width="1"/>
<text x="381.3" y="318.6" class="lg">金融法人</text>
<rect x="459.0" y="309.2" width="7.5" height="7.5" fill="#ffd966" stroke="#d8b040" stroke-width="1"/>
<text x="471.2" y="318.6" class="lg">投信</text>
<text x="668.6" y="169.8" class="ar">買い越し</text>
<text x="668.6" y="282.8" class="ar">売り越し</text>
</svg>
</body></html>
